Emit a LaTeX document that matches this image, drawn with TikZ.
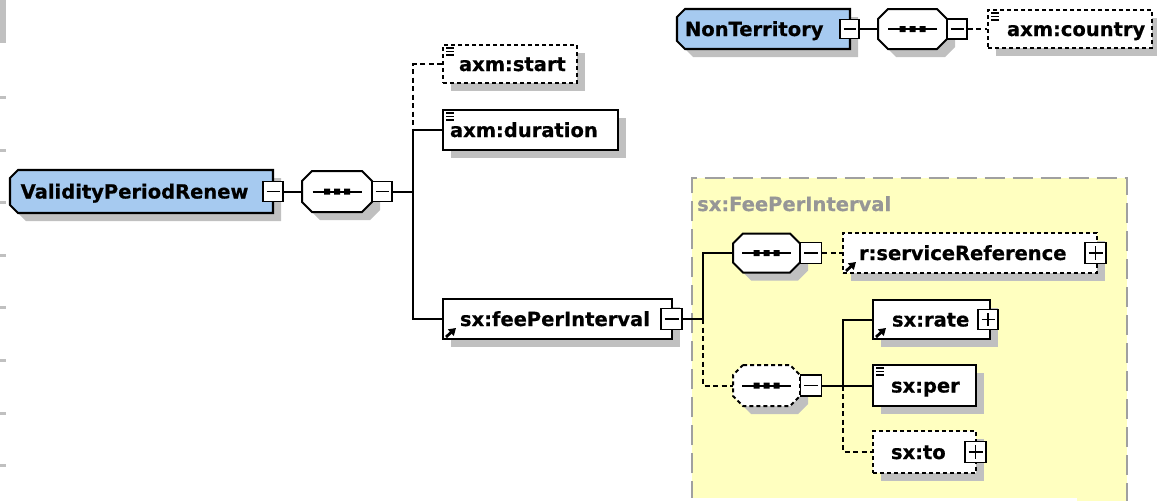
\documentclass[tikz,border=0pt]{standalone}
\usepackage{fontspec}
\newfontfamily\dvs{DejaVu Sans}
\usetikzlibrary{arrows.meta,shadows,calc}
\definecolor{bluefill}{RGB}{166,202,240}
\definecolor{yellowc}{RGB}{255,255,192}
\definecolor{shadowc}{RGB}{192,192,192}
\definecolor{framec}{RGB}{160,160,160}
\definecolor{labelc}{RGB}{150,150,150}
\setlength{\parindent}{0pt}
\pgfdeclarelayer{bg}\pgfdeclarelayer{wires}\pgfsetlayers{bg,wires,main}
\tikzset{
 lbl/.style={font=\dvs\bfseries\fontsize{19.5}{22}\selectfont\addfontfeatures{FakeBold=0.6}},
 txtbox/.style={lbl, inner sep=0pt, align=left, text height=18pt, text depth=4pt},
 elem/.style={txtbox, draw, fill=white, line width=2pt,
   drop shadow={shadow xshift=8pt, shadow yshift=-8pt, fill=shadowc, opacity=1}},
 opt/.style={dash pattern=on 4pt off 3pt},
 conn/.style={line width=2pt},
 dconn/.style={conn, dash pattern=on 5pt off 3.5pt},
 minusb/.style={draw, fill=white, line width=1.8pt, minimum size=20pt, inner sep=0pt,
   path picture={\draw[line width=1.6pt] ([xshift=3.5pt]path picture bounding box.west) -- ([xshift=-3.5pt]path picture bounding box.east);}},
 plusb/.style={draw, fill=white, line width=1.8pt, minimum size=20pt, inner sep=0pt,
   path picture={\draw[line width=1.6pt] ([xshift=3.5pt]path picture bounding box.west) -- ([xshift=-3.5pt]path picture bounding box.east)
     ([yshift=-3.5pt]path picture bounding box.north) -- ([yshift=3.5pt]path picture bounding box.south);}},
 icon/.style={line width=1.4pt},
 refarrow/.style={line width=2.8pt, -{Triangle[length=7pt,width=8.5pt]}},
}
\newcommand\octpath[3]{(-#1+#3,-#2) -- (#1-#3,-#2) -- (#1,-#2+#3) -- (#1,#2-#3) -- (#1-#3,#2) -- (-#1+#3,#2) -- (-#1,#2-#3) -- (-#1,-#2+#3) -- cycle}
\newcommand\seqshape[5]{%
  \fill[shadowc, shift={(#2)}, xshift=8pt, yshift=-8pt] \octpath{#3}{#4}{10};
  \draw[line width=2pt, fill=white, shift={(#2)}, #5] \octpath{#3}{#4}{10};
  \node[inner sep=0pt, minimum width={2*#3}, minimum height={2*#4}] (#1) at (#2) {};
  \draw[conn, shift={(#2)}] (-24.5,0) -- (24.5,0);
  \fill[shift={(#2)}] (-13,-3) rectangle (-7,3) (-3,-3) rectangle (3,3) (7,-3) rectangle (13,3);
}
\newcommand\blueshape[3]{%
  \fill[shadowc, shift={(#1)}, xshift=8pt, yshift=-8pt] (-#2+8,-#3) -- (#2,-#3) -- (#2,#3) -- (-#2+8,#3) -- (-#2,#3-8) -- (-#2,-#3+8) -- cycle;
  \draw[line width=2.1pt, fill=bluefill, shift={(#1)}] (-#2+8,-#3) -- (#2,-#3) -- (#2,#3) -- (-#2+8,#3) -- (-#2,#3-8) -- (-#2,-#3+8) -- cycle;
}
\newcommand\simpleicon[1]{\draw[icon] ([shift={(4,4)}]#1.north west) -- ++(8,0) ([shift={(4,7.5)}]#1.north west) -- ++(8,0) ([shift={(4,11)}]#1.north west) -- ++(8,0);}
\newcommand\reficon[1]{\draw[refarrow] ([shift={(4,-3)}]#1.south west) -- ++(10,-9);}
\begin{document}
\begin{tikzpicture}[x=1pt,y=-1pt]
\useasboundingbox (0,0) rectangle (1157,501);
\begin{pgfonlayer}{bg}
\fill[white] (0,0) rectangle (1157,501);
\node[fill=yellowc, anchor=north west, minimum width=435pt, minimum height=323pt, inner sep=0pt] (cplx) at (692,178) {};
\draw[framec, line width=2pt, dash pattern=on 20pt off 8pt] (cplx.south west) -- (cplx.north west) -- (cplx.north east) -- (cplx.south east);
\fill[white] (689,498) rectangle (1077,502);
\end{pgfonlayer}
% screenshot edge marks
\fill[shadowc] (0,0) rectangle (6,43);
\foreach \t in {96,149,201,254,306,359,412,464} \fill[shadowc] (0,\t) rectangle (6,\t+3);
\node[lbl, text=labelc, anchor=base west, inner sep=0pt] (cplxname) at (697,211) {sx:FeePerInterval};
% ValidityPeriodRenew
\blueshape{141.5,191.5}{131.5}{21.5}
\node[txtbox, text width=263pt, minimum height=43pt] (vpr) at (141.5,191.5) {\hspace*{10.7pt}\mbox{ValidityPeriodRenew}};
\node[minusb] (vprm) at (273,191.5) {};
\seqshape{seqA}{337,191.5}{35}{20.5}{}
\node[minusb] (seqAm) at (382,191.5) {};
\coordinate (busA) at (413,191.5);
\node[elem, opt, text width=134pt, minimum height=38pt] (start) at (510,64) {\hspace*{16pt}\mbox{axm:start}};
\node[elem, text width=175pt, minimum height=40pt] (duration) at (530.5,130) {\hspace*{7pt}\mbox{axm:duration}};
\node[elem, text width=229pt, minimum height=40pt] (fee) at (557.5,319) {\hspace*{17pt}\mbox{sx:feePerInterval}};
\node[minusb, minimum size=21pt] (feem) at (671.5,319) {};
\coordinate (J1) at (703,319);
\seqshape{seqB}{766.5,253}{33.5}{19.5}{}
\node[minusb, minimum size=21pt] (seqBm) at (811,253) {};
\node[elem, opt, text width=254pt, minimum height=40pt] (sref) at (970,253) {\hspace*{16pt}\mbox{r:serviceReference}};
\node[plusb, minimum size=21pt] (srefp) at (1095.5,253) {};
\seqshape{seqC}{766.5,385.5}{33.5}{20.5}{opt}
\node[minusb, minimum size=21pt] (seqCm) at (811,385.5) {};
\coordinate (J2) at (843,385.5);
\node[elem, text width=117pt, minimum height=39pt] (rate) at (931.5,319.5) {\hspace*{19pt}\mbox{sx:rate}};
\node[plusb] (ratep) at (988,319.5) {};
\node[elem, text width=103pt, minimum height=41pt] (per) at (924.5,385.5) {\hspace*{18pt}\mbox{sx:per}};
\node[elem, opt, text width=103pt, minimum height=42pt] (to) at (924.5,452) {\hspace*{18pt}\mbox{sx:to}};
\node[plusb, minimum size=21pt] (top) at (975.5,452) {};
% NonTerritory
\blueshape{763.5,29}{86.5}{20}
\node[txtbox, text width=173pt, minimum height=40pt] (nt) at (763.5,29) {\hspace*{8pt}\mbox{NonTerritory}};
\node[minusb, minimum size=19pt] (ntm) at (849.5,29) {};
\seqshape{seqN}{912.5,29}{34.5}{20}{}
\node[minusb] (seqNm) at (957,29) {};
\node[elem, opt, text width=164pt, minimum height=38pt] (country) at (1070,29) {\hspace*{19pt}\mbox{axm:country}};
% icons
\simpleicon{start}\simpleicon{duration}\simpleicon{per}\simpleicon{country}
\reficon{fee}\reficon{sref}\reficon{rate}
% connectors
\begin{pgfonlayer}{wires}
\draw[conn] (vprm.east) -- (seqA.west);
\draw[conn] (seqAm.east) -- (busA);
\draw[dconn] (start.west) -| (busA |- duration.west);
\draw[conn] (duration.west) -| (busA |- fee.west) -- (fee.west);
\draw[conn] (feem.east) -- (J1);
\draw[conn] (J1) |- (seqB.west);
\draw[dconn] (J1) |- (seqC.west);
\draw[dconn] (seqBm.east) -- (sref.west);
\draw[conn] (seqCm.east) -- (per.west);
\draw[conn] (J2) |- (rate.west);
\draw[dconn] (J2) |- (to.west);
\draw[conn] (ntm.east) -- (seqN.west);
\draw[dconn] (seqNm.east) -- (country.west);
\end{pgfonlayer}
\end{tikzpicture}
\end{document}
